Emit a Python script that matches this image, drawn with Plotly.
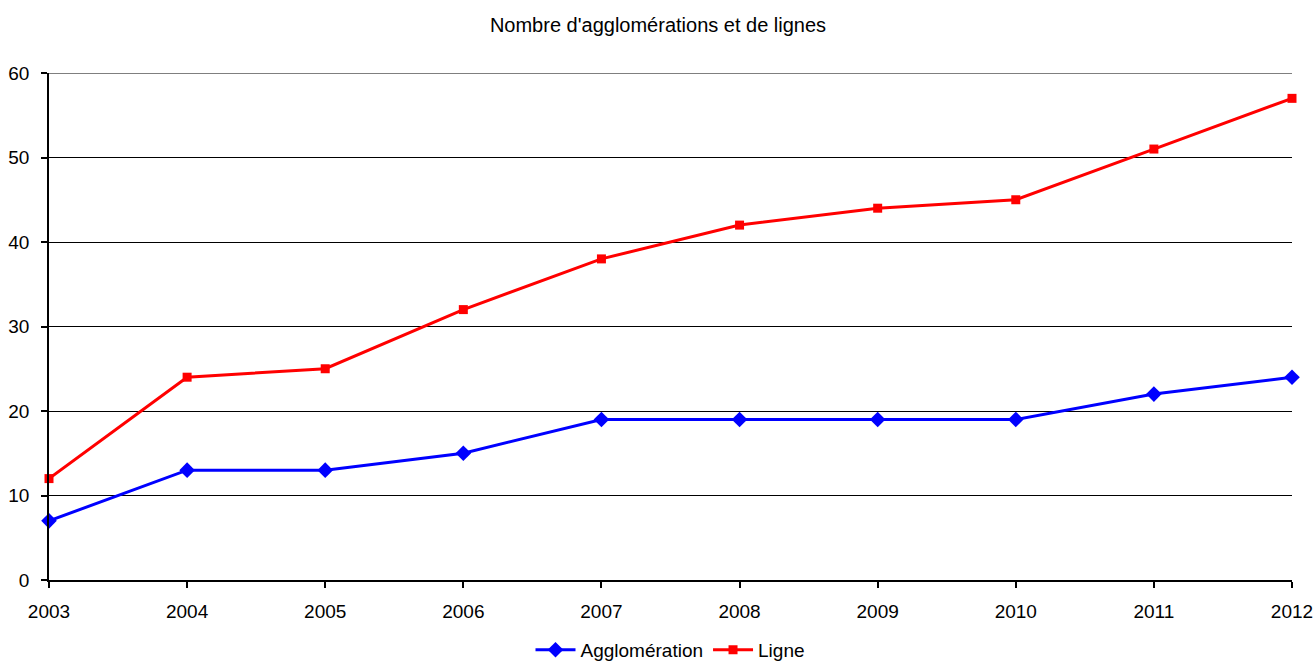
import plotly.graph_objects as go

years = [2003, 2004, 2005, 2006, 2007, 2008, 2009, 2010, 2011, 2012]
agglomeration = [7, 13, 13, 15, 19, 19, 19, 19, 22, 24]
ligne = [12, 24, 25, 32, 38, 42, 44, 45, 51, 57]
y_max = 60

font_family = "Liberation Sans, Arial, sans-serif"

fig = go.Figure()
fig.add_trace(go.Scatter(
    x=years, y=agglomeration, name="Agglomération", mode="lines+markers",
    line=dict(color="#0000FF", width=3),
    marker=dict(symbol="diamond", size=12, color="#0000FF"),
    cliponaxis=False,
))
fig.add_trace(go.Scatter(
    x=years, y=ligne, name="Ligne", mode="lines+markers",
    line=dict(color="#FF0000", width=3),
    marker=dict(symbol="square", size=9, color="#FF0000"),
    cliponaxis=False,
))

# top gridline at the upper end of the value range
fig.add_shape(type="line", xref="paper", yref="y", x0=0, x1=1, y0=y_max, y1=y_max,
              line=dict(color="black", width=1.2), layer="below")

fig.update_layout(
    width=1316, height=666,
    margin=dict(l=49, r=24, t=73, b=86, autoexpand=False),
    paper_bgcolor="white", plot_bgcolor="white",
    font=dict(family=font_family, size=19, color="black"),
    title=dict(text="Nombre d'agglomérations et de lignes", x=0.5, xanchor="center",
               y=0.962, yanchor="middle", font=dict(size=20)),
    showlegend=True,
    legend=dict(orientation="h", x=0.5, xanchor="center", y=-0.138, yanchor="middle",
                font=dict(size=19), itemwidth=40, tracegroupgap=0,
                borderwidth=0),
    xaxis=dict(range=[years[0], years[-1]], tickmode="array", tickvals=years,
               ticktext=[str(y) for y in years], showgrid=False, automargin=False,
               showline=True, linecolor="black", linewidth=1.5,
               ticks="outside", ticklen=6, tickcolor="black", tickwidth=1.5,
               ticklabelstandoff=7, zeroline=False),
    yaxis=dict(range=[0, y_max], dtick=10, showgrid=True, gridcolor="black", gridwidth=1.2,
               showline=True, linecolor="black", linewidth=1.5, automargin=False,
               ticks="outside", ticklen=6, tickcolor="black", tickwidth=1.5,
               ticklabelstandoff=8, zeroline=False),
)

fig.write_html("out.html")
